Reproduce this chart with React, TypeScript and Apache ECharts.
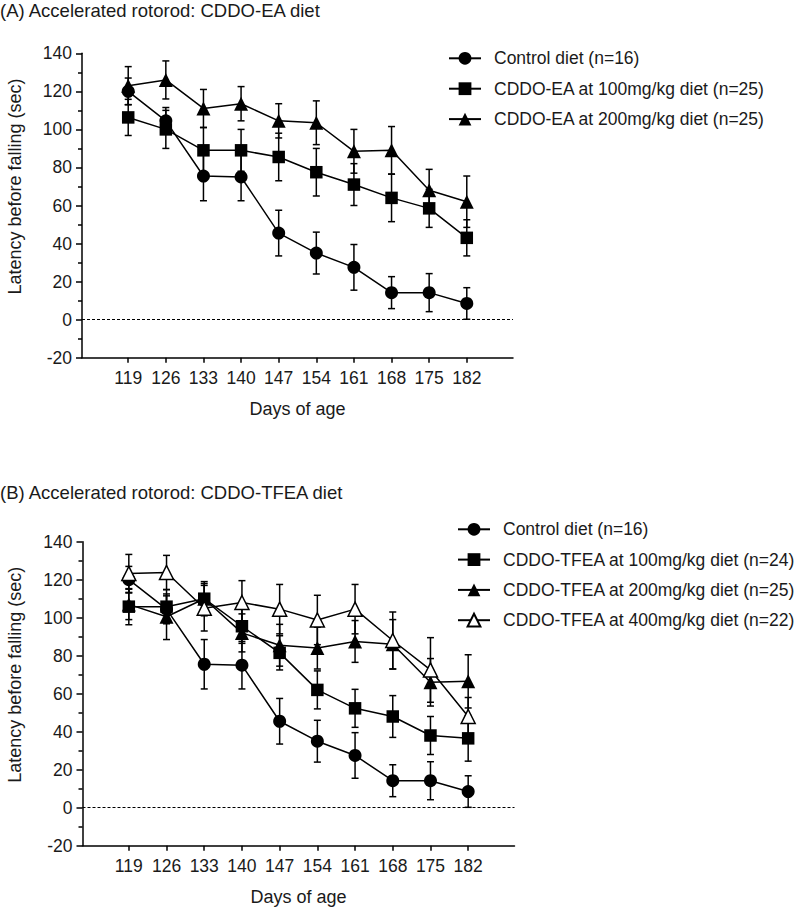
import React, { useEffect, useRef } from "react";
import * as echarts from "echarts";

const days = [119, 126, 133, 140, 147, 154, 161, 168, 175, 182];

// Panel A
const ctrl = [120, 104.5, 75.5, 75, 45.5, 35, 27.5, 14.2, 14.2, 8.5];
const ctrlErr = [7, 7, 13, 12.5, 12, 11, 12, 8.4, 10, 8.3];
const ea100 = [106.3, 100, 89, 89, 85.5, 77.5, 71, 64, 58.5, 43];
const ea100Err = [9.5, 10, 12, 11, 12.5, 12.5, 11, 12.5, 10, 9.5];
const ea200 = [123, 126, 111, 113.5, 104.5, 103.5, 88.5, 89, 68, 62];
const ea200Err = [10, 10, 10, 9, 9, 11.5, 11.5, 12.5, 11, 13.5];

// Panel B
const tfea100 = [105.8, 105.8, 110, 95.5, 81.5, 62, 52.3, 48, 38, 36.5];
const tfea100Err = [9.5, 9, 8, 9, 9, 10, 10, 11, 10, 12];
const tfea200 = [107, 100.5, 110, 92, 85.5, 84, 87.5, 86, 66, 66.5];
const tfea200Err = [8, 12, 9, 10, 11, 11, 11, 13, 12.5, 14];
const tfea400 = [123.3, 123.8, 105, 108, 104.5, 98.8, 104.5, 88, 72.5, 48];
const tfea400Err = [10, 9, 12, 11.5, 13, 13, 13, 15, 17, 10];

const namesA = [
  "Control diet (n=16)",
  "CDDO-EA at 100mg/kg diet (n=25)",
  "CDDO-EA at 200mg/kg diet (n=25)",
];
const namesB = [
  "Control diet (n=16)",
  "CDDO-TFEA at 100mg/kg diet (n=24)",
  "CDDO-TFEA at 200mg/kg diet (n=25)",
  "CDDO-TFEA at 400mg/kg diet (n=22)",
];
const yTicks = { min: -20, max: 140, interval: 20 };

const FONT = '"Liberation Sans", Arial, Helvetica, sans-serif';
const INK = "#1a1a1a";

function lineSeries(
  name: string,
  vals: number[],
  symbol: string,
  size: number,
  idx: number,
  open = false,
  extra: any = {}
) {
  return {
    type: "line",
    name,
    xAxisIndex: idx,
    yAxisIndex: idx,
    z: 3,
    data: days.map((d, i) => [d, vals[i]]),
    symbol,
    symbolSize: size,
    showAllSymbol: true,
    lineStyle: { color: "#000", width: 1.5 },
    itemStyle: open
      ? { color: "#fff", borderColor: "#000", borderWidth: 1.5 }
      : { color: "#000", borderColor: "#000", borderWidth: 0 },
    emphasis: { disabled: true },
    ...extra,
  };
}

function errSeries(vals: number[], errs: number[], idx: number) {
  return {
    type: "custom",
    xAxisIndex: idx,
    yAxisIndex: idx,
    z: 1,
    silent: true,
    data: days.map((d, i) => [d, vals[i], errs[i]]),
    encode: { x: 0, y: 1 },
    renderItem: (params: any, api: any) => {
      const x = api.value(0);
      const y = api.value(1);
      const e = api.value(2);
      const top = api.coord([x, y + e]);
      const bot = api.coord([x, y - e]);
      const hw = 3.5;
      const st = { stroke: "#000", lineWidth: 1.5 };
      return {
        type: "group",
        children: [
          { type: "line", shape: { x1: top[0], y1: top[1], x2: bot[0], y2: bot[1] }, style: st },
          { type: "line", shape: { x1: top[0] - hw, y1: top[1], x2: top[0] + hw, y2: top[1] }, style: st },
          { type: "line", shape: { x1: bot[0] - hw, y1: bot[1], x2: bot[0] + hw, y2: bot[1] }, style: st },
        ],
      };
    },
  };
}

const zeroLine = {
  silent: true,
  symbol: "none",
  label: { show: false },
  lineStyle: { color: "#000", type: [3, 2], width: 1 },
  data: [{ yAxis: 0 }],
};

function xAxisDef(idx: number) {
  return {
    type: "value",
    gridIndex: idx,
    min: 110.4,
    max: 190.6,
    name: "Days of age",
    nameLocation: "middle",
    nameGap: 42,
    nameTextStyle: { fontSize: 18, color: INK, fontFamily: FONT },
    axisLine: { onZero: false, lineStyle: { color: "#000", width: 1.5 } },
    axisTick: { customValues: days, length: 5, lineStyle: { color: "#000", width: 1.5 } },
    axisLabel: { customValues: days, fontSize: 17.5, color: INK, fontFamily: FONT, margin: 11 },
    splitLine: { show: false },
  };
}

function yAxisDef(idx: number) {
  return {
    type: "value",
    gridIndex: idx,
    ...yTicks,
    axisLine: { show: true, lineStyle: { color: "#000", width: 1.5 } },
    axisTick: { show: true, length: 6, lineStyle: { color: "#000", width: 1.5 } },
    minorTick: { show: true, splitNumber: 2, length: 4, lineStyle: { color: "#000", width: 1.5 } },
    axisLabel: { fontSize: 17.5, color: INK, fontFamily: FONT, margin: 10 },
    splitLine: { show: false },
    minorSplitLine: { show: false },
  };
}

function legendDef(data: string[], left: number, top: number, gap: number) {
  return {
    data,
    orient: "vertical",
    left,
    top,
    padding: 0,
    itemWidth: 32,
    itemHeight: 16,
    itemGap: gap,
    selectedMode: false,
    textStyle: { fontSize: 17.5, color: INK, fontFamily: FONT, lineHeight: 16, padding: [0, 0, 0, 8] },
  };
}

export default function App() {
  const ref = useRef<HTMLDivElement>(null);
  useEffect(() => {
    document.body.style.margin = "0";
    if (!ref.current) return;
    const chart = echarts.init(ref.current, null, { renderer: "svg" });
    const option: any = {
      animation: false,
      backgroundColor: "#fff",
      textStyle: { fontFamily: FONT },
      title: [
        {
          text: "(A) Accelerated rotorod: CDDO-EA diet",
          left: 0,
          top: 1,
          padding: 0,
          textStyle: { fontSize: 18.5, fontWeight: "normal", color: INK, fontFamily: FONT },
        },
        {
          text: "(B) Accelerated rotorod: CDDO-TFEA diet",
          left: 0,
          top: 483,
          padding: 0,
          textStyle: { fontSize: 18.5, fontWeight: "normal", color: INK, fontFamily: FONT },
        },
      ],
      legend: [legendDef(namesA, 448, 49.3, 12.4), legendDef(namesB, 457, 520.3, 12.3)],
      grid: [
        { left: 82, top: 53.3, width: 431, height: 304.4 },
        { left: 82.5, top: 541.7, width: 432, height: 304 },
      ],
      xAxis: [xAxisDef(0), xAxisDef(1)],
      yAxis: [yAxisDef(0), yAxisDef(1)],
      graphic: [
        {
          type: "text",
          x: 15,
          y: 186.5,
          rotation: Math.PI / 2,
          style: {
            text: "Latency before falling (sec)",
            fontSize: 18,
            fontFamily: FONT,
            fill: INK,
            align: "center",
            verticalAlign: "middle",
          },
        },
        {
          type: "text",
          x: 15,
          y: 674.7,
          rotation: Math.PI / 2,
          style: {
            text: "Latency before falling (sec)",
            fontSize: 18,
            fontFamily: FONT,
            fill: INK,
            align: "center",
            verticalAlign: "middle",
          },
        },
      ],
      series: [
        errSeries(ctrl, ctrlErr, 0),
        errSeries(ea100, ea100Err, 0),
        errSeries(ea200, ea200Err, 0),
        lineSeries(namesA[0], ctrl, "circle", 13, 0, false, { markLine: zeroLine }),
        lineSeries(namesA[1], ea100, "rect", 12.5, 0),
        lineSeries(namesA[2], ea200, "triangle", 14, 0),
        errSeries(ctrl, ctrlErr, 1),
        errSeries(tfea100, tfea100Err, 1),
        errSeries(tfea200, tfea200Err, 1),
        errSeries(tfea400, tfea400Err, 1),
        lineSeries(namesB[0], ctrl, "circle", 13, 1, false, { markLine: zeroLine }),
        lineSeries(namesB[1], tfea100, "rect", 12.5, 1),
        lineSeries(namesB[2], tfea200, "triangle", 14, 1),
        lineSeries(namesB[3], tfea400, "triangle", 14, 1, true),
      ],
    };
    chart.setOption(option);
    return () => chart.dispose();
  }, []);
  return <div ref={ref} style={{ width: 800, height: 913 }} />;
}
